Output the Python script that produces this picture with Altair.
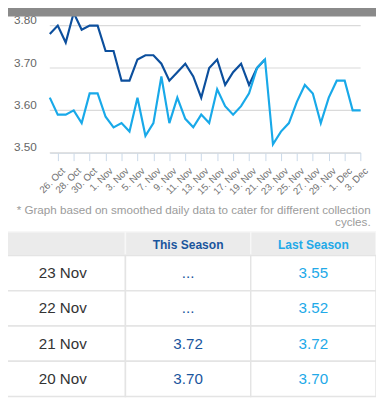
import altair as alt
import pandas as pd

# ---------------- data ----------------
dates = [
    "2014-10-25", "2014-10-26", "2014-10-27", "2014-10-28", "2014-10-29", "2014-10-30", "2014-10-31",
    "2014-11-01", "2014-11-02", "2014-11-03", "2014-11-04", "2014-11-05", "2014-11-06", "2014-11-07",
    "2014-11-08", "2014-11-09", "2014-11-10", "2014-11-11", "2014-11-12", "2014-11-13", "2014-11-14",
    "2014-11-15", "2014-11-16", "2014-11-17", "2014-11-18", "2014-11-19", "2014-11-20", "2014-11-21",
    "2014-11-22", "2014-11-23", "2014-11-24", "2014-11-25", "2014-11-26", "2014-11-27", "2014-11-28",
    "2014-11-29", "2014-11-30", "2014-12-01", "2014-12-02", "2014-12-03",
]
this_season = [
    3.78, 3.80, 3.76, 3.83, 3.79, 3.80, 3.80, 3.74, 3.74, 3.67, 3.67, 3.72, 3.73, 3.73,
    3.71, 3.67, 3.69, 3.71, 3.68, 3.63, 3.70, 3.72, 3.66, 3.69, 3.71, 3.66, 3.70, 3.72,
]
last_season = [
    3.63, 3.59, 3.59, 3.60, 3.57, 3.64, 3.64, 3.585, 3.56, 3.57, 3.55, 3.63, 3.54, 3.57,
    3.68, 3.57, 3.63, 3.58, 3.56, 3.59, 3.57, 3.65, 3.61, 3.59, 3.61, 3.64, 3.70, 3.72,
    3.52, 3.55, 3.57, 3.62, 3.66, 3.64, 3.57, 3.63, 3.67, 3.67, 3.60, 3.60,
]
tick_dates = [
    "2014-10-26", "2014-10-28", "2014-10-30", "2014-11-01", "2014-11-03", "2014-11-05",
    "2014-11-07", "2014-11-09", "2014-11-11", "2014-11-13", "2014-11-15", "2014-11-17",
    "2014-11-19", "2014-11-21", "2014-11-23", "2014-11-25", "2014-11-27", "2014-11-29",
    "2014-12-01", "2014-12-03",
]
y_ticks = [3.50, 3.60, 3.70, 3.80]

footnote = [
    "* Graph based on smoothed daily data to cater for different collection",
    "cycles.",
]
col_names = ["", "This Season", "Last Season"]
col_kinds = ["date", "this", "last"]
row_dates = ["23 Nov", "22 Nov", "21 Nov", "20 Nov"]
row_this = ["...", "...", "3.72", "3.70"]
row_last = ["3.55", "3.52", "3.72", "3.70"]

# ---------------- layout / style ----------------
W, H = 376, 390
PLOT_L, PLOT_R = 42.7, 360.3      # line chart plot area (px)
PLOT_T, PLOT_B = 4.5, 143.7
GRID_TOP_PX = 13.7
Y_MIN, Y_GRID_TOP = 3.5, 3.8
PX_PER_UNIT = (PLOT_B - GRID_TOP_PX) / (Y_GRID_TOP - Y_MIN)
Y_TOP = Y_GRID_TOP + (GRID_TOP_PX - PLOT_T) / PX_PER_UNIT
HDR_T, HDR_B = 224.3, 248.7       # table header row
BODY_B = HDR_B + 36 * len(row_dates)

FONT = "Liberation Sans"
DARK = "#0c4f9d"
LIGHT = "#18a9e9"
DARK_T = "#1a559d"
LIGHT_T = "#22a9e8"
GRID = "#dadada"
AXIS = "#c9d8e8"


def to_dt(s):
    y, m, d = (int(p) for p in s.split("-"))
    return alt.DateTime(year=y, month=m, date=d, utc=True)


xs = alt.Scale(type="utc", domain=[to_dt(dates[0]), to_dt(dates[-1])], range=[PLOT_L, PLOT_R])
ys = alt.Scale(domain=[Y_MIN, Y_TOP], range=[PLOT_B, PLOT_T], nice=False, zero=False)

# ---------------- line chart ----------------
x_axis = alt.Axis(
    values=[to_dt(t) for t in tick_dates],
    labelExpr="utcFormat(datum.value, '%-d. %b')",
    labelAngle=315,
    labelAlign="right",
    labelBaseline="top",
    labelPadding=5,
    labelOffset=2,
    labelFontSize=10,
    labelColor="#707070",
    labelFont=FONT,
    labelOverlap=False,
    labelFlush=False,
    domainColor=AXIS,
    domainWidth=1,
    tickColor=AXIS,
    tickSize=8,
    tickWidth=1,
    grid=False,
    offset=PLOT_B - H,
    title=footnote,
    titleFont=FONT,
    titleFontSize=11.9,
    titleFontWeight="normal",
    titleColor="#9b9b9b",
    titleAlign="right",
    titleBaseline="top",
    titleLineHeight=12.5,
    titleX=370,
    titleY=52.8,
)
y_axis = alt.Axis(
    values=y_ticks,
    format=".2f",
    domain=False,
    ticks=False,
    grid=False,
    labelPadding=13.7,
    labelOffset=-6,
    labelFontSize=12,
    labelColor="#666666",
    labelFont=FONT,
    offset=-PLOT_L,
    title=None,
)

df_this = pd.DataFrame({"date": dates[: len(this_season)], "value": this_season})
df_last = pd.DataFrame({"date": dates[: len(last_season)], "value": last_season})
df_grid = pd.DataFrame({"v": y_ticks, "x0": dates[0], "x1": dates[-1]})

grid = alt.Chart(df_grid).mark_rule(color=GRID, strokeWidth=1.2).encode(
    x=alt.X("x0:T", scale=xs, axis=None),
    x2="x1:T",
    y=alt.Y("v:Q", scale=ys, axis=None),
)
line_this = alt.Chart(df_this).mark_line(strokeWidth=2.2, color=DARK).encode(
    x=alt.X("date:T", scale=xs, axis=x_axis),
    y=alt.Y("value:Q", scale=ys, axis=y_axis),
)
line_last = alt.Chart(df_last).mark_line(strokeWidth=2.2, color=LIGHT).encode(
    x=alt.X("date:T", scale=xs, axis=None),
    y=alt.Y("value:Q", scale=ys, axis=None),
)
header_bar = alt.Chart(pd.DataFrame({"k": ["bar"]})).mark_rect(color="#8a8a8a").encode(
    y=alt.YDatum(Y_TOP, type="quantitative", scale=ys, axis=None),
    y2=alt.Y2Datum(Y_TOP + 0.1),
)

# ---------------- table ----------------
tx = alt.Scale(domain=[0, 3], range=[-8, W], nice=False, zero=False)
hy = alt.Scale(domain=[0, 1], range=[HDR_T, HDR_B], nice=False, zero=False)
by = alt.Scale(domain=list(range(len(row_dates))), range=[HDR_B, BODY_B], paddingInner=0, paddingOuter=0)
color_scale = alt.Scale(domain=col_kinds, range=["#333333", DARK_T, LIGHT_T])

hdr_df = pd.DataFrame({"ci": list(range(len(col_names))), "label": col_names, "kind": col_kinds})
hdr_base = alt.Chart(hdr_df).transform_calculate(ce="datum.ci + 1", cc="datum.ci + 0.5")
hdr_rect = hdr_base.mark_rect(fill="#ebebeb", stroke="#f7f7f7", strokeWidth=1.5).encode(
    x=alt.X("ci:Q", scale=tx, axis=None),
    x2="ce:Q",
    y=alt.YDatum(0, type="quantitative", scale=hy, axis=None),
    y2=alt.Y2Datum(1),
)
hdr_text = hdr_base.mark_text(fontSize=12.3, fontWeight="bold", font=FONT, dy=1.5).encode(
    x=alt.X("cc:Q", scale=tx, axis=None),
    y=alt.YDatum(0.5, type="quantitative", scale=hy, axis=None),
    text="label:N",
    color=alt.Color("kind:N", scale=color_scale, legend=None),
)

rows = []
for ri, (d, t, l) in enumerate(zip(row_dates, row_this, row_last)):
    for ci, (kind, txt) in enumerate(zip(col_kinds, [d, t, l])):
        rows.append({"ri": ri, "ci": ci, "kind": kind, "txt": txt})
body_df = pd.DataFrame(rows)
body_base = alt.Chart(body_df).transform_calculate(ce="datum.ci + 1", cc="datum.ci + 0.5")
body_rect = body_base.mark_rect(fill="white", stroke="#e4e4e4", strokeWidth=1.5).encode(
    x=alt.X("ci:Q", scale=tx, axis=None),
    x2="ce:Q",
    y=alt.Y("ri:O", scale=by, axis=None),
)
body_text = body_base.mark_text(fontSize=15.5, font=FONT).encode(
    x=alt.X("cc:Q", scale=tx, axis=None),
    y=alt.Y("ri:O", scale=by, axis=None),
    text="txt:N",
    color=alt.Color("kind:N", scale=color_scale, legend=None),
)

chart = (
    alt.layer(grid, line_this, line_last, header_bar, hdr_rect, hdr_text, body_rect, body_text)
    .resolve_scale(x="independent", y="independent")
    .resolve_axis(x="independent", y="independent")
    .properties(width=W, height=H, autosize=alt.AutoSizeParams(type="none"), padding=0)
    .configure_view(strokeWidth=0)
)

chart.save("out.html", embed_options={"renderer": "svg", "actions": False})
